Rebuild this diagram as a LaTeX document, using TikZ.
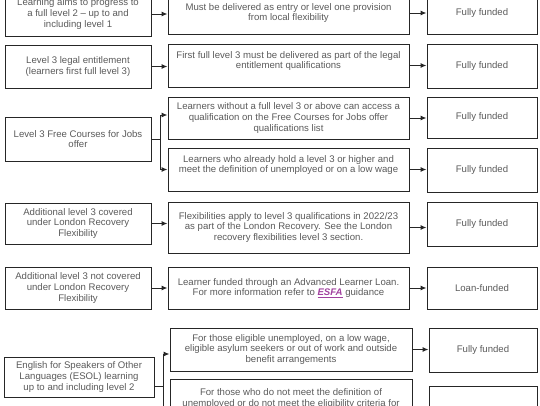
\documentclass[tikz,border=0pt]{standalone}
\usepackage{fontspec}
\setmainfont{Liberation Sans}
\usepackage{xcolor}
\usepackage{tikz}
\usetikzlibrary{arrows.meta, positioning, calc}
\definecolor{boxline}{HTML}{262626}
\definecolor{boxtext}{HTML}{5A5A5A}
\definecolor{esfapurple}{HTML}{A0409E}
\newcommand{\esfalink}{\textcolor{esfapurple}{\underline{\textit{\textbf{ESFA}}}}}
\tikzset{
    blk/.style={draw=boxline, line width=1pt, align=center, text=boxtext,
                font=\fontsize{9.6}{10.8}\selectfont, inner sep=2pt},
    aimblk/.style={blk, minimum width=146pt},
    rulblk/.style={blk, minimum width=241pt},
    fundblk/.style={blk, minimum width=110pt},
    arr/.style={-{Latex[length=6pt,width=5pt]}, line width=1pt, boxline},
    lnk/.style={line width=1pt, boxline}
}

\begin{document}
\begin{tikzpicture}[x=1pt, y=-1pt]
    \useasboundingbox (0,0) rectangle (540,405);
    \clip (0,0) rectangle (540,405);
    % learning aims
    \node[aimblk, minimum height=44pt] (aim1) at (78,14) {Learning aims to progress to\\a full level 2 -- up to and\\including level 1};
    \node[aimblk, minimum height=43pt] (aim2) at (78,66.5) {Level 3 legal entitlement\\(learners first full level 3)};
    \node[aimblk, minimum height=44pt] (aim3) at (78,139) {Level 3 Free Courses for Jobs\\offer};
    \node[aimblk, minimum height=41pt] (aim4) at (78,223.5) {Additional level 3 covered\\under London Recovery\\Flexibility};
    \node[aimblk, minimum height=42pt] (aim5) at (78,288) {Additional level 3 not covered\\under London Recovery\\Flexibility};
    \node[aimblk, minimum width=150pt, minimum height=40pt] (aim6) at (79,377) {English for Speakers of Other\\Languages (ESOL) learning\\up to and including level 2};
    % rules
    \node[rulblk, minimum height=42pt] (rul1) at (288.5,13) {Must be delivered as entry or level one provision\\from local flexibility};
    \node[rulblk, minimum height=43pt] (rul2) at (288.5,65.5) {First full level 3 must be delivered as part of the legal\\entitlement qualifications\\\mbox{}};
    \node[rulblk, minimum height=42pt] (rul3) at (288.5,118) {Learners without a full level 3 or above can access a\\qualification on the Free Courses for Jobs offer\\qualifications list};
    \node[rulblk, minimum height=43pt] (rul4) at (288.5,169.5) {Learners who already hold a level 3 or higher and\\meet the definition of unemployed or on a low wage\\\mbox{}};
    \node[rulblk, minimum height=51pt] (rul5) at (288.5,227.5) {Flexibilities apply to level 3 qualifications in 2022/23\\as part of the London Recovery. See the London\\recovery flexibilities level 3 section.};
    \node[rulblk, minimum height=42pt] (rul6) at (288.5,288) {Learner funded through an Advanced Learner Loan.\\For more information refer to \esfalink{} guidance};
    \node[rulblk, minimum width=242pt, minimum height=43pt] (rul7) at (291,349.5) {For those eligible unemployed, on a low wage,\\eligible asylum seekers or out of work and outside\\benefit arrangements};
    \node[rulblk, minimum width=242pt, minimum height=59pt] (rul8) at (291,408.5) {For those who do not meet the definition of\\unemployed or do not meet the eligibility criteria for\\\mbox{}\\\mbox{}};
    % funding
    \node[fundblk, minimum height=42pt] (fund1) at (482,13) {Fully funded};
    \node[fundblk, minimum height=44pt] (fund2) at (482,66) {Fully funded};
    \node[fundblk, minimum height=41pt] (fund3) at (482,117.5) {Fully funded};
    \node[fundblk, minimum height=44pt] (fund4) at (482,170) {Fully funded};
    \node[fundblk, minimum height=44pt] (fund5) at (482,224) {Fully funded};
    \node[fundblk, minimum height=42pt] (fund6) at (482,288) {Loan-funded};
    \node[fundblk, minimum width=108pt, minimum height=44pt] (fund7) at (483,350) {Fully funded};
    \node[fundblk, minimum width=108pt, minimum height=46pt, anchor=north] (fund8) at (483,386) {};
    % connectors
    \foreach \i in {1,2} {
        \draw[arr] (aim\i.east) -- (aim\i.east -| rul\i.west);
    }
    \draw[arr] (aim4.east) -- (aim4.east -| rul5.west);
    \draw[arr] (aim5.east) -- (aim5.east -| rul6.west);
    \foreach \i in {1,...,8} {
        \draw[arr] (rul\i.east) -- (rul\i.east -| fund\i.west);
    }
    % free courses split
    \coordinate (fcjsplit) at ([xshift=9pt]aim3.east);
    \draw[lnk] (aim3.east) -- (fcjsplit);
    \draw[arr] (fcjsplit) |- ([yshift=3pt]rul3.west);
    \draw[arr] (fcjsplit) |- (rul4.west);
    % esol split
    \coordinate (esolout) at ([yshift=-9pt]aim6.east);
    \coordinate (esolsplit) at ([xshift=9pt]esolout);
    \draw[lnk] (esolout) -- (esolsplit);
    \draw[arr] (esolsplit) |- ([yshift=-4.5pt]rul7.west);
    \draw[arr] (esolsplit) |- (rul8.west);
\end{tikzpicture}
\end{document}
